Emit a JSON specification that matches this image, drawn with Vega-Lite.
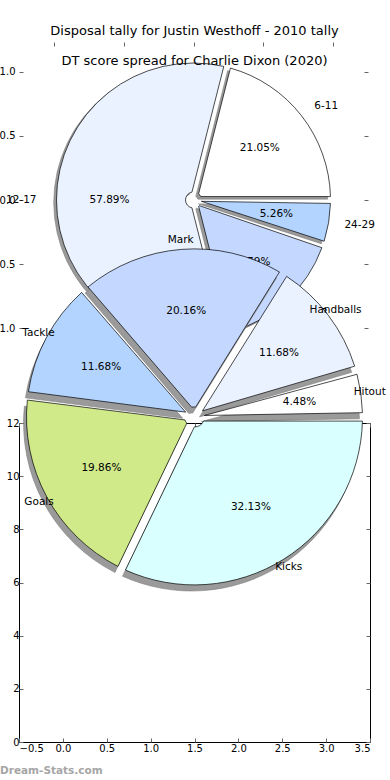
{
  "$schema": "https://vega.github.io/schema/vega-lite/v6.json",
  "background": "white",
  "padding": {"left": -10, "top": 24, "right": 0, "bottom": 0},
  "config": {
    "font": "DejaVu Sans",
    "view": {"stroke": null},
    "axis": {"labelFont": "DejaVu Sans", "labelFontSize": 10, "labelColor": "black", "tickColor": "#666", "grid": false, "domain": false, "title": null, "labelPadding": 4},
    "title": {"font": "DejaVu Sans", "fontSize": 13, "fontWeight": "normal", "color": "black"}
  },
  "datasets": {
    "westhoff": [
      {"bucket": "24-29", "share": 0.0526},
      {"bucket": "18-23", "share": 0.1579},
      {"bucket": "12-17", "share": 0.5789},
      {"bucket": "6-11", "share": 0.2105}
    ],
    "dixon": [
      {"stat": "Kicks", "share": 0.3213},
      {"stat": "Goals", "share": 0.1986},
      {"stat": "Tackle", "share": 0.1168},
      {"stat": "Mark", "share": 0.2016},
      {"stat": "Handballs", "share": 0.1168},
      {"stat": "Hitout", "share": 0.0448}
    ]
  },
  "spacing": 65,
  "bounds": "flush",
  "resolve": {"scale": {"color": "independent", "theta": "independent", "x": "independent", "y": "independent"}},
  "vconcat": [
    {
      "width": 349,
      "height": 316,
      "title": {
        "text": "Disposal tally for Justin Westhoff - 2010 tally",
        "subtitle": "DT score spread for Charlie Dixon (2020)",
        "subtitleFont": "DejaVu Sans",
        "subtitleFontSize": 13,
        "subtitleColor": "black",
        "subtitlePadding": 17,
        "offset": -26,
        "dx": 1,
        "anchor": "middle"
      },
      "data": {"name": "westhoff"},
      "transform": [{"window": [{"op": "row_number", "as": "k"}]}],
      "encoding": {
        "theta": {"field": "share", "type": "quantitative", "stack": true, "scale": {"range": [1.5708, 7.854]}},
        "order": {"field": "k", "type": "quantitative"}
      },
      "layer": [
        {
          "mark": {"type": "arc", "outerRadius": 137, "innerRadius": 8, "padAngle": 0.05, "fill": "#9a9a9a", "stroke": "#808080", "strokeWidth": 0.6},
          "encoding": {
            "x": {"datum": -0.02, "type": "quantitative", "scale": {"domain": [-1.25, 1.25], "nice": false, "zero": false}, "axis": {"orient": "top", "values": [-1, -0.5, 0, 0.5, 1], "labels": false, "tickSize": -4}},
            "y": {"datum": -0.02, "type": "quantitative", "scale": {"domain": [-1.234, 1.234], "nice": false, "zero": false}, "axis": {"orient": "left", "values": [-1, -0.5, 0, 0.5, 1], "format": ".1f", "tickSize": -4, "labelPadding": 8}}
          }
        },
        {
          "mark": {"type": "arc", "outerRadius": 137, "innerRadius": 8, "padAngle": 0.05, "stroke": "black", "strokeWidth": 0.7},
          "encoding": {
            "x": {"datum": 0, "type": "quantitative", "scale": {"domain": [-1.25, 1.25], "nice": false, "zero": false}, "axis": null},
            "y": {"datum": 0, "type": "quantitative", "scale": {"domain": [-1.234, 1.234], "nice": false, "zero": false}, "axis": {"orient": "right", "values": [-1, -0.5, 0, 0.5, 1], "labels": false, "tickSize": -4}},
            "color": {"field": "bucket", "type": "nominal", "scale": {"domain": ["6-11", "12-17", "18-23", "24-29"], "range": ["#ffffff", "#eaf1ff", "#c4d8ff", "#b3d4ff"]}, "legend": null}
          }
        },
        {
          "mark": {"type": "text", "radius": 84, "fontSize": 10.5, "baseline": "middle", "color": "black"},
          "encoding": {
            "x": {"datum": 0, "type": "quantitative", "scale": {"domain": [-1.25, 1.25], "nice": false, "zero": false}, "axis": null},
            "y": {"datum": 0, "type": "quantitative", "scale": {"domain": [-1.234, 1.234], "nice": false, "zero": false}, "axis": null},
            "text": {"field": "share", "type": "quantitative", "format": ".2%"}
          }
        },
        {
          "mark": {"type": "text", "radius": 157, "fontSize": 10.5, "align": "right", "baseline": "middle", "color": "black"},
          "encoding": {
            "x": {"datum": 0, "type": "quantitative", "scale": {"domain": [-1.25, 1.25], "nice": false, "zero": false}, "axis": null},
            "y": {"datum": 0, "type": "quantitative", "scale": {"domain": [-1.234, 1.234], "nice": false, "zero": false}, "axis": null},
            "text": {"condition": {"test": "datum.bucket === '12-17'", "field": "bucket", "type": "nominal"}, "value": ""}
          }
        },
        {
          "mark": {"type": "text", "radius": 153, "fontSize": 10.5, "align": "left", "baseline": "middle", "color": "black"},
          "encoding": {
            "x": {"datum": 0, "type": "quantitative", "scale": {"domain": [-1.25, 1.25], "nice": false, "zero": false}, "axis": null},
            "y": {"datum": 0, "type": "quantitative", "scale": {"domain": [-1.234, 1.234], "nice": false, "zero": false}, "axis": null},
            "text": {"condition": {"test": "datum.bucket !== '12-17'", "field": "bucket", "type": "nominal"}, "value": ""}
          }
        }
      ],
      "resolve": {"axis": {"x": "independent", "y": "independent"}}
    },
    {
      "width": 351,
      "height": 319,
      "view": {"stroke": "black", "strokeWidth": 1},
      "title": {"text": "Dream-Stats.com", "orient": "bottom", "anchor": "start", "frame": "group", "dx": -19, "offset": 13, "fontSize": 10.5, "fontWeight": "bold", "color": "#a6a6a6"},
      "data": {"name": "dixon"},
      "transform": [{"window": [{"op": "row_number", "as": "k"}]}],
      "encoding": {
        "theta": {"field": "share", "type": "quantitative", "stack": true, "scale": {"range": [1.5708, 7.854]}},
        "order": {"field": "k", "type": "quantitative"}
      },
      "layer": [
        {
          "mark": {"type": "arc", "outerRadius": 168, "innerRadius": 10, "padAngle": 0.05, "fill": "#9a9a9a", "stroke": "#808080", "strokeWidth": 0.6},
          "encoding": {
            "x": {"datum": 1.466, "type": "quantitative", "scale": {"domain": [-0.5, 3.5], "nice": false, "zero": false}, "axis": {"orient": "bottom", "values": [-0.5, 0, 0.5, 1, 1.5, 2, 2.5, 3, 3.5], "format": ".1f", "tickSize": -4, "labelPadding": 5}},
            "y": {"datum": 12.0, "type": "quantitative", "scale": {"domain": [0, 12], "nice": false, "zero": false}, "axis": {"orient": "left", "values": [0, 2, 4, 6, 8, 10, 12], "format": "d", "tickSize": -4, "labelPadding": 4}}
          }
        },
        {
          "mark": {"type": "arc", "outerRadius": 168, "innerRadius": 10, "padAngle": 0.05, "stroke": "black", "strokeWidth": 0.7},
          "encoding": {
            "x": {"datum": 1.5, "type": "quantitative", "scale": {"domain": [-0.5, 3.5], "nice": false, "zero": false}, "axis": {"orient": "top", "values": [-0.5, 0, 0.5, 1, 1.5, 2, 2.5, 3, 3.5], "labels": false, "tickSize": -4}},
            "y": {"datum": 12.23, "type": "quantitative", "scale": {"domain": [0, 12], "nice": false, "zero": false}, "axis": {"orient": "right", "values": [0, 2, 4, 6, 8, 10, 12], "labels": false, "tickSize": -4}},
            "color": {"field": "stat", "type": "nominal", "scale": {"domain": ["Kicks", "Goals", "Tackle", "Mark", "Handballs", "Hitout"], "range": ["#d9ffff", "#d0ea8a", "#b3d4ff", "#c4d8ff", "#eaf1ff", "#ffffff"]}, "legend": null}
          }
        },
        {
          "mark": {"type": "text", "radius": 106, "fontSize": 10.5, "baseline": "middle", "color": "black"},
          "encoding": {
            "x": {"datum": 1.5, "type": "quantitative", "scale": {"domain": [-0.5, 3.5], "nice": false, "zero": false}, "axis": null},
            "y": {"datum": 12.23, "type": "quantitative", "scale": {"domain": [0, 12], "nice": false, "zero": false}, "axis": null},
            "text": {"field": "share", "type": "quantitative", "format": ".2%"}
          }
        },
        {
          "mark": {"type": "text", "radius": 177, "fontSize": 10.5, "baseline": "middle", "color": "black"},
          "encoding": {
            "x": {"datum": 1.5, "type": "quantitative", "scale": {"domain": [-0.5, 3.5], "nice": false, "zero": false}, "axis": null},
            "y": {"datum": 12.23, "type": "quantitative", "scale": {"domain": [0, 12], "nice": false, "zero": false}, "axis": null},
            "text": {"field": "stat", "type": "nominal"}
          }
        }
      ],
      "resolve": {"axis": {"x": "independent", "y": "independent"}}
    }
  ]
}
